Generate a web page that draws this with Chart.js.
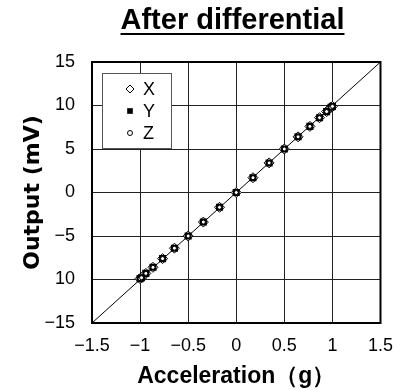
<!DOCTYPE html>
<html>
<head>
<meta charset="utf-8">
<script src="https://cdn.jsdelivr.net/npm/chart.js@4/dist/chart.umd.min.js"></script>
<style>
  body { margin: 0; background: #fff; }
  #wrap { width: 405px; height: 390px; }
</style>
</head>
<body>
<div id="wrap"><canvas id="chart"></canvas></div>
<script>
// values
const accel = [-1, -0.985, -0.94, -0.866, -0.766, -0.643, -0.5, -0.342, -0.174, 0, 0.174, 0.342, 0.5, 0.643, 0.766, 0.866, 0.94, 0.985, 1];
const outX = [-9.9, -9.8, -9.3, -8.6, -7.6, -6.4, -5.0, -3.4, -1.7, 0.0, 1.7, 3.4, 5.0, 6.4, 7.6, 8.6, 9.3, 9.8, 9.9];
const outY = [-9.9, -9.8, -9.3, -8.6, -7.6, -6.4, -5.0, -3.4, -1.7, 0.0, 1.7, 3.4, 5.0, 6.4, 7.6, 8.6, 9.3, 9.8, 9.9];
const outZ = [-9.9, -9.8, -9.3, -8.6, -7.6, -6.4, -5.0, -3.4, -1.7, 0.0, 1.7, 3.4, 5.0, 6.4, 7.6, 8.6, 9.3, 9.8, 9.9];
const refX = [-1.5, 1.5];
const refY = [-15, 15];
const seriesNames = ["X", "Y", "Z"];
const xTickLabels = ["\u22121.5", "\u22121", "\u22120.5", "0", "0.5", "1", "1.5"];
const yTickLabels = ["\u221215", "10", "\u22125", "0", "5", "10", "15"];
const titleText = "After differential";

const FONT = "'Liberation Sans', Arial, sans-serif";

function pts(xs, ys) {
  return xs.map((x, i) => ({ x: x, y: ys[i] }));
}

const markerStyles = [
  { pointStyle: "rectRot", radius: 5, legendRadius: 4, bg: "#fff", bw: 1 },
  { pointStyle: "rect", radius: 5, legendRadius: 4, bg: "#000", bw: 0 },
  { pointStyle: "circle", radius: 2, legendRadius: 2.5, bg: "#fff", bw: 1 },
];

const pointSets = [outX, outY, outZ].map((ys, i) => ({
  type: "scatter",
  label: seriesNames[i],
  data: pts(accel, ys),
  pointStyle: markerStyles[i].pointStyle,
  pointRadius: markerStyles[i].radius,
  pointBackgroundColor: markerStyles[i].bg,
  pointBorderColor: "#000",
  pointBorderWidth: markerStyles[i].bw,
  showLine: false,
  order: 3 - i,
}));

const frameAndTitle = {
  id: "frameAndTitle",
  afterDraw(chart) {
    const ctx = chart.ctx;
    const a = chart.chartArea;
    ctx.save();
    // plot frame
    ctx.strokeStyle = "#000";
    ctx.lineWidth = 2;
    ctx.strokeRect(a.left, a.top, a.right - a.left, a.bottom - a.top);

    // title with underline
    ctx.font = "bold 29px " + FONT;
    ctx.fillStyle = "#000";
    ctx.textAlign = "center";
    ctx.textBaseline = "alphabetic";
    const cx = 232.5;
    ctx.fillText(titleText, cx, 29);
    const w = ctx.measureText(titleText).width;
    ctx.fillRect(cx - w / 2, 33, w, 2);

    // legend box
    const lx = 102.5, ly = 73.5, lw = 69, lh = 75;
    ctx.fillStyle = "#fff";
    ctx.fillRect(lx, ly, lw, lh);
    ctx.strokeStyle = "#555";
    ctx.lineWidth = 1;
    ctx.strokeRect(lx, ly, lw, lh);
    ctx.font = "18px " + FONT;
    ctx.textAlign = "left";
    ctx.textBaseline = "middle";
    seriesNames.forEach((name, i) => {
      const y = 89 + i * 22;
      const m = markerStyles[i];
      ctx.fillStyle = m.bg;
      ctx.strokeStyle = "#000";
      ctx.lineWidth = 1;
      Chart.helpers.drawPoint(ctx, { pointStyle: m.pointStyle, radius: m.legendRadius, borderWidth: m.bw, rotation: 0 }, 130, y);
      ctx.fillStyle = "#000";
      ctx.fillText(name, 143, y + 1);
    });
    ctx.restore();
  },
};

new Chart(document.getElementById("chart"), {
  type: "scatter",
  data: {
    datasets: [
      {
        type: "line",
        label: "ref",
        data: pts(refX, refY),
        borderColor: "#000",
        borderWidth: 1,
        pointRadius: 0,
        fill: false,
        order: 4,
      },
      ...pointSets,
    ],
  },
  options: {
    responsive: true,
    maintainAspectRatio: false,
    animation: false,
    layout: { padding: { top: 62, right: 24, bottom: 0, left: 0 } },
    plugins: {
      legend: { display: false },
      tooltip: { enabled: false },
      title: { display: false },
    },
    scales: {
      x: {
        type: "linear",
        min: -1.5,
        max: 1.5,
        afterFit: (s) => { s.height = 67; },
        ticks: {
          stepSize: 0.5,
          padding: 12,
          color: "#000",
          font: { family: FONT, size: 18 },
          maxRotation: 0,
          callback: (v, i) => xTickLabels[i],
        },
        grid: { color: "#222", lineWidth: 1, drawTicks: false },
        border: { color: "#000", width: 2 },
        title: {
          display: true,
          text: "Acceleration\uFF08g\uFF09",
          color: "#000",
          font: { family: FONT, size: 23, weight: "bold" },
          padding: { top: 0, bottom: 0 },
        },
      },
      y: {
        type: "linear",
        min: -15,
        max: 15,
        afterFit: (s) => { s.width = 92; },
        ticks: {
          stepSize: 5,
          padding: 17,
          color: "#000",
          font: { family: FONT, size: 18 },
          callback: (v, i) => yTickLabels[i],
        },
        grid: { color: "#222", lineWidth: 1, drawTicks: false },
        border: { color: "#000", width: 2 },
        title: {
          display: true,
          text: "Output (mV)",
          color: "#000",
          font: { family: "'DejaVu Sans', sans-serif", size: 22, weight: "bold" },
          padding: { top: 20, bottom: 0 },
        },
      },
    },
  },
  plugins: [frameAndTitle],
});
</script>
</body>
</html>
